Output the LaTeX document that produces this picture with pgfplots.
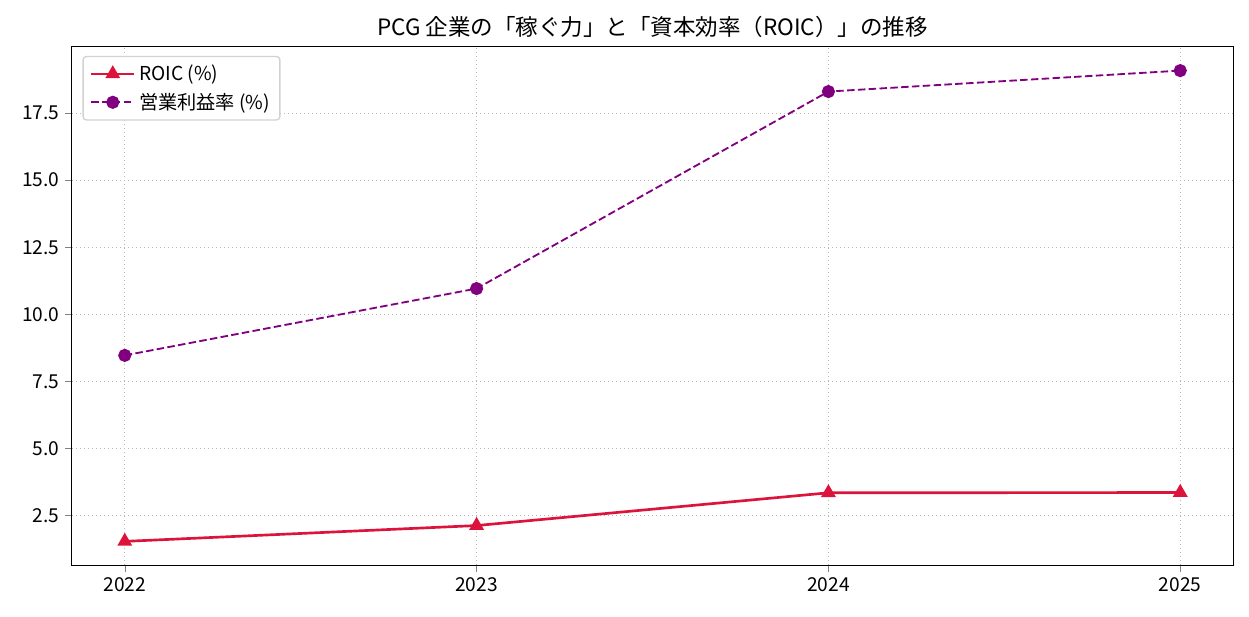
\documentclass[border=0pt]{standalone}
\usepackage{pgfplots}
\pgfplotsset{compat=1.18}
\usepackage{fontspec}
\setmainfont{Noto Sans CJK JP}
\definecolor{roic}{RGB}{220,20,60}
\definecolor{opm}{RGB}{128,0,128}
\begin{document}
\begin{tikzpicture}
\path[use as bounding box] (-43.2pt,-30.6pt) rectangle (706.2pt,339pt);
\begin{axis}[
  scale only axis,
  width=696.6pt, height=310.8pt,
  at={(0,0)}, anchor=south west,
  xmin=2021.85, xmax=2025.15,
  ymin=0.66, ymax=19.96,
  xtick={2022,2023,2024,2025},
  ytick={2.5,5,7.5,10,12.5,15,17.5},
  /pgf/number format/assume math mode=true,
  xticklabel style={/pgf/number format/.cd, 1000 sep={}},
  yticklabel style={/pgf/number format/.cd, fixed, fixed zerofill, precision=1},
  tick label style={font=\fontsize{11.5}{13}\selectfont},
  tick align=outside,
  tick pos=left,
  major tick length=4pt,
  axis line style={black, line width=0.6pt},
  grid=major,
  grid style={dotted, gray!55, line width=0.6pt},
  title={PCG 企業の「稼ぐ力」と「資本効率（ROIC）」の推移},
  title style={font=\fontsize{13.5}{15}\selectfont, yshift=-4pt},
  legend cell align=left,
  legend style={font=\fontsize{11.5}{13}\selectfont, draw=gray!35, rounded corners=2pt, line width=0.8pt, inner xsep=4pt, inner ysep=3pt, row sep=2pt, at={(0.009,0.983)}, anchor=north west},
  legend image code/.code={\draw[#1] (0pt,0pt) -- (13pt,0pt) -- (26pt,0pt); \path[#1, solid] plot coordinates {(13pt,0pt)};},
]
\addplot[color=roic, line width=1.6pt, mark=triangle*, mark size=3.6pt, mark options={solid}]
  coordinates {(2022,1.54) (2023,2.13) (2024,3.35) (2025,3.36)};
\addlegendentry{ROIC (\%)}
\addplot[color=opm, line width=1.1pt, dashed, dash pattern=on 4.5pt off 2pt, mark=*, mark size=3.4pt, mark options={solid}]
  coordinates {(2022,8.47) (2023,10.96) (2024,18.30) (2025,19.08)};
\addlegendentry{営業利益率 (\%)}
\end{axis}
\end{tikzpicture}
\end{document}
